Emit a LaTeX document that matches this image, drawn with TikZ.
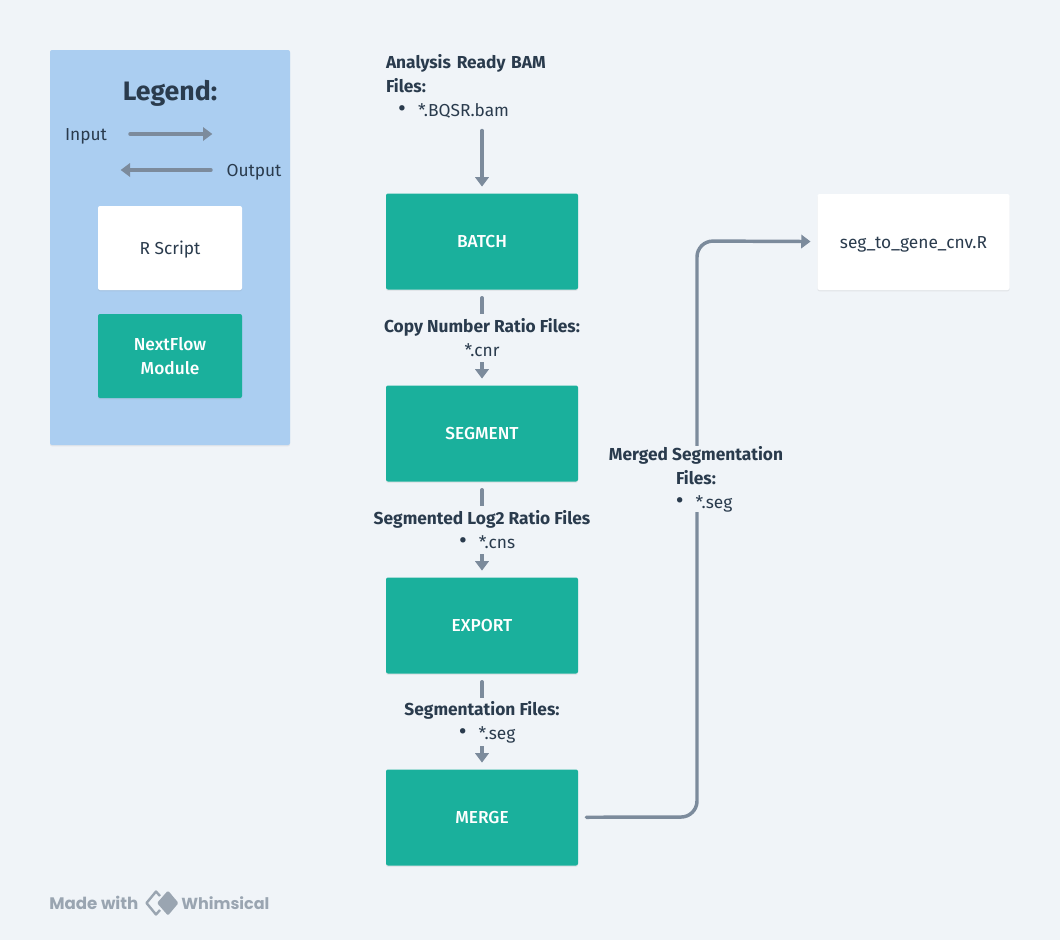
\documentclass[tikz,border=0pt]{standalone}
\usepackage{fontspec}
\setmainfont{Fira Sans}
\newfontfamily\brandfont{Poppins}
\newfontfamily\mediumfont{Fira Sans Medium}
\usetikzlibrary{arrows.meta, shadows}
\definecolor{cpage}{HTML}{F0F4F8}
\definecolor{cpanel}{HTML}{ABCEF1}
\definecolor{cteal}{HTML}{1AB09C}
\definecolor{cink}{HTML}{2A3B4D}
\definecolor{cline}{HTML}{7C8B9C}
\definecolor{cbrand}{HTML}{9AA5B1}
\newcommand{\listitem}[2]{\hspace{#1}\makebox[0pt][r]{{\fontsize{18}{18}\selectfont\textbullet}\hspace{9pt}}#2}
\tikzset{
  every picture/.style={font=\fontsize{13}{18}\selectfont, text=cink},
  softshadow/.style={drop shadow={shadow xshift=0pt, shadow yshift=-1pt, opacity=0.12}},
  panel/.style={fill=cpanel, rounded corners=1.5pt, softshadow},
  module/.style={fill=cteal, text=white, rounded corners=1.5pt, align=center, minimum width=144pt, minimum height=72pt, softshadow, font=\fontsize{13}{18}\selectfont\mediumfont},
  rscript/.style={fill=white, rounded corners=1.5pt, align=center, minimum width=144pt, minimum height=72pt, softshadow, text height=10pt, text depth=1pt},
  flow/.style={-{Triangle[length=7pt, width=10pt]}, draw=cline, line width=2.6pt, line cap=round, shorten >=5pt, shorten <=6pt},
  filelabel/.style={fill=cpage, inner sep=0pt, align=center, minimum height=36pt, font=\fontsize{13}{18}\selectfont},
}

\begin{document}
\begin{tikzpicture}[x=0.75pt, y=-0.75pt]
  \useasboundingbox (0,0) rectangle (1060,940);
  \fill[cpage] (0,0) rectangle (1060,940);
  % legend
  \node[panel, minimum width=180pt, minimum height=296.25pt] (legend) at (170,247.5) {};
  \node[font=\fontsize{20}{24}\selectfont\bfseries] (legendtitle) at (170,93) {Legend:};
  \node (input) at (86,136) {Input};
  \node (output) at (254,172) {Output};
  \coordinate (inputa) at (122,134);
  \coordinate (inputb) at (219,134);
  \coordinate (outputa) at (219,170);
  \coordinate (outputb) at (114,170);
  \draw[flow] (inputa) -- (inputb);
  \draw[flow] (outputa) -- (outputb);
  \node[rscript, minimum width=108pt, minimum height=63pt] (legendr) at (170,248) {R Script};
  \node[module, minimum width=108pt, minimum height=63pt] (legendnf) at (170,356) {NextFlow\\Module};
  % pipeline
  \node[module] (batch) at (482,241.5) {BATCH};
  \node[module] (segment) at (482,433.5) {SEGMENT};
  \node[module] (export) at (482,625.5) {EXPORT};
  \node[module] (merge) at (482,817.5) {MERGE};
  \node[rscript] (segtogene) at (913.5,242) {seg\_to\_gene\_cnv.R};
  \node[anchor=north, inner sep=0pt, text width=144pt, align=left, minimum height=54pt] (bamfiles) at (482,50) {\textbf{Analysis Ready BAM}\\\textbf{Files:}\\\hspace{24pt}\listitem{0pt}{*.BQSR.bam}};
  \draw[flow] (bamfiles) -- (batch);
  \foreach \a/\b in {batch/segment, segment/export, export/merge}
    \draw[flow] (\a) -- (\b);
  \coordinate (bend) at (697,817);
  \coordinate (rise) at (697,241);
  \draw[flow, rounded corners=12pt] (merge) -- (bend) -- (rise) -- (segtogene);
  \node[filelabel] (cnr) at (482,338) {\textbf{Copy Number Ratio Files:}\\*.cnr};
  \node[filelabel] (cns) at (482,530) {\textbf{Segmented Log2 Ratio Files}\\\listitem{22.5pt}{*.cns}};
  \node[filelabel] (seg) at (482,722) {\textbf{Segmentation Files:}\\\listitem{22.5pt}{*.seg}};
  \node[filelabel] (mergedseg) at (696,479) {\textbf{Merged Segmentation}\\\textbf{Files:}\\\listitem{27pt}{*.seg}};
  % footer
  \node[anchor=west, inner sep=0pt, text=cbrand, font=\fontsize{12.5}{14}\selectfont\brandfont\bfseries] (made) at (49,903) {Made with};
  \node[anchor=west, inner sep=0pt, text=cbrand, font=\fontsize{12}{14}\selectfont\brandfont\bfseries] (whimsical) at (181,903) {Whimsical};
  \draw[cbrand, line width=1.8pt, line join=round] (160,896) -- (156,891.5) -- (146.5,903) -- (156,914.5) -- (160,910);
  \fill[cbrand, rounded corners=1pt] (168,890.5) -- (178.5,903) -- (168,915.5) -- (157,903) -- cycle;
\end{tikzpicture}
\end{document}
